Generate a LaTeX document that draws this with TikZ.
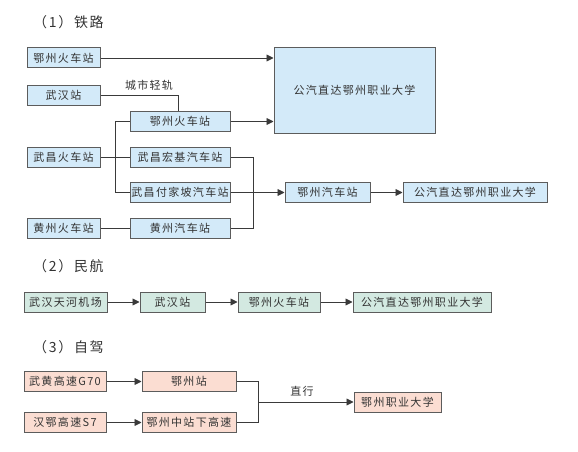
\documentclass[tikz,border=0pt]{standalone}
\usepackage{fontspec}
\setmainfont{Noto Sans CJK SC}[LetterSpace=12]
\usetikzlibrary{arrows.meta}
\definecolor{bxblue}{HTML}{D3EAF9}
\definecolor{bxgreen}{HTML}{D3E9E1}
\definecolor{bxred}{HTML}{FBDDD2}
\definecolor{bxline}{HTML}{5C5C5C}
\definecolor{cnline}{HTML}{3A3A3A}
\definecolor{txt}{HTML}{333333}
\tikzset{
  bx/.style={draw=bxline, line width=1pt, minimum height=20pt, inner sep=0pt, text=txt, font=\fontsize{11}{12}\selectfont},
  bblue/.style={bx, fill=bxblue},
  bgreen/.style={bx, fill=bxgreen},
  bred/.style={bx, fill=bxred},
  cn/.style={draw=cnline, line width=0.9pt},
  ar/.style={cn, -{Triangle[length=7pt,width=7pt]}},
  ttl/.style={anchor=west, text=txt, font=\fontsize{14}{16}\selectfont, inner sep=0pt},
  lbl/.style={text=txt, font=\fontsize{11}{12}\selectfont, inner sep=0pt}
}
\begin{document}
\begin{tikzpicture}[x=1pt,y=-1pt]
\useasboundingbox (0,0) rectangle (578,452);
% section 1
\node[ttl] (t1) at (33,22) {（1）铁路};
\node[bblue, minimum width=73pt] (a1) at (63.5,58) {鄂州火车站};
\node[bblue, minimum width=73pt] (a2) at (63.5,95.5) {武汉站};
\node[bblue, minimum width=73pt] (a3) at (63.5,157.5) {武昌火车站};
\node[bblue, minimum width=73pt] (a4) at (63.5,228.5) {黄州火车站};
\node[bblue, minimum width=100pt] (b1) at (180,121.5) {鄂州火车站};
\node[bblue, minimum width=100pt] (b2) at (180,157.5) {武昌宏基汽车站};
\node[bblue, minimum width=100pt] (b3) at (180,192.5) {武昌付家坡汽车站};
\node[bblue, minimum width=100pt] (b4) at (180,228.5) {黄州汽车站};
\node[bblue, minimum width=161pt, minimum height=85pt] (big) at (354.5,90.5) {公汽直达鄂州职业大学};
\node[bblue, minimum width=85pt] (c1) at (327.5,192.5) {鄂州汽车站};
\node[bblue, minimum width=144pt] (c2) at (475,192.5) {公汽直达鄂州职业大学};
\node[lbl] (l1) at (149,85) {城市轻轨};
\draw[ar] (a1.east) -- (a1.east -| big.west);
\draw[cn] (a2.east) -| ([xshift=-2pt]b1.north);
\draw[ar] (b1.east) -- (b1.east -| big.west);
\draw[cn] (a3.east) -- (b2.west);
\draw[cn] (b1.west) -- ++(-14,0) |- (b3.west);
\draw[cn] (b2.east) -- ++(23,0) |- (b4.east);
\draw[cn] (a4.east) -- (b4.west);
\draw[ar] (b3.east) -- (c1.west);
\draw[ar] (c1.east) -- (c2.west);
% section 2
\node[ttl] (t2) at (33,266) {（2）民航};
\node[bgreen, minimum width=83pt] (d1) at (65.5,302) {武汉天河机场};
\node[bgreen, minimum width=65pt] (d2) at (172.5,302) {武汉站};
\node[bgreen, minimum width=82pt] (d3) at (279,302) {鄂州火车站};
\node[bgreen, minimum width=138pt] (d4) at (422,302) {公汽直达鄂州职业大学};
\draw[ar] (d1.east) -- (d2.west);
\draw[ar] (d2.east) -- (d3.west);
\draw[ar] (d3.east) -- (d4.west);
% section 3
\node[ttl] (t3) at (33,347) {（3）自驾};
\node[bred, minimum width=82pt] (e1) at (65,381.5) {武黄高速G70};
\node[bred, minimum width=94pt] (e2) at (189,381.5) {鄂州站};
\node[bred, minimum width=82pt] (e3) at (65,422.5) {汉鄂高速S7};
\node[bred, minimum width=94pt] (e4) at (189,422.5) {鄂州中站下高速};
\node[bred, minimum width=87pt] (e5) at (397.5,402) {鄂州职业大学};
\node[lbl] (l2) at (302,391) {直行};
\coordinate (j) at (258,402);
\draw[ar] (e1.east) -- (e2.west);
\draw[ar] (e3.east) -- (e4.west);
\draw[cn] (e2.east) -| (j);
\draw[cn] (e4.east) -| (j);
\draw[ar] (j) -- (e5.west);
\end{tikzpicture}
\end{document}
